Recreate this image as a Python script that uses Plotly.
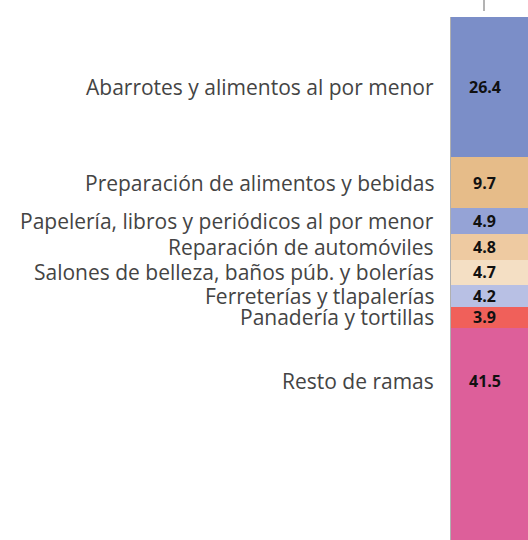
import plotly.graph_objects as go

ramas = [
    "Abarrotes y alimentos al por menor",
    "Preparación de alimentos y bebidas",
    "Papelería, libros y periódicos al por menor",
    "Reparación de automóviles",
    "Salones de belleza, baños púb. y bolerías",
    "Ferreterías y tlapalerías",
    "Panadería y tortillas",
    "Resto de ramas",
]
porcentajes = [26.4, 9.7, 4.9, 4.8, 4.7, 4.2, 3.9, 41.5]
colores = ["#7b8ec8", "#e6bc89", "#95a3d6", "#eecaa1",
           "#f4dfc4", "#b8c0e4", "#f0605a", "#dd5f9a"]

fig = go.Figure()
base = 0
label_y = []
for nombre, valor, color in zip(ramas, porcentajes, colores):
    fig.add_trace(go.Bar(
        x=[0], y=[valor], base=[base], width=1,
        marker=dict(color=color, line=dict(width=0)),
        name=nombre, hoverinfo="skip"
    ))
    if nombre == "Resto de ramas":
        label_y.append(base + 10)
    else:
        label_y.append(base + valor / 2)
    base += valor

for nombre, valor, yv in zip(ramas, porcentajes, label_y):
    fig.add_annotation(
        x=-0.208, xref="paper", y=yv, yref="y",
        text=nombre, showarrow=False, xanchor="right", yanchor="middle",
        borderpad=0,
        font=dict(family="Open Sans", size=21, color="#444444")
    )
    fig.add_annotation(
        x=0.44, xref="paper", y=yv, yref="y",
        text=f"<b>{valor}</b>", showarrow=False, xanchor="center",
        yanchor="middle", borderpad=0,
        font=dict(family="Open Sans", size=16, color="#111111")
    )

# small tick above the bar
fig.add_shape(
    type="line", xref="paper", yref="paper",
    x0=0.4286, x1=0.4286, y0=1.0115, y1=1.04,
    line=dict(color="#9a9a9a", width=1.5)
)

fig.update_xaxes(range=[-0.5, 0.5], visible=False, fixedrange=True)
fig.update_yaxes(
    range=[98.7, 0], showgrid=False, zeroline=False,
    showticklabels=False, ticks="",
    showline=True, linecolor="#b0b0b0", linewidth=1
)
fig.update_layout(
    barmode="stack",
    width=528, height=540,
    showlegend=False,
    template="plotly_white",
    plot_bgcolor="white", paper_bgcolor="white",
    margin=dict(l=451, r=0, t=17, b=0)
)

# drop the default page margin so the figure sits at the window corner
fig.write_html(
    "out.html",
    config={"displayModeBar": False},
    post_script="document.body.style.margin='0';"
                "document.body.style.overflow='hidden';"
)
